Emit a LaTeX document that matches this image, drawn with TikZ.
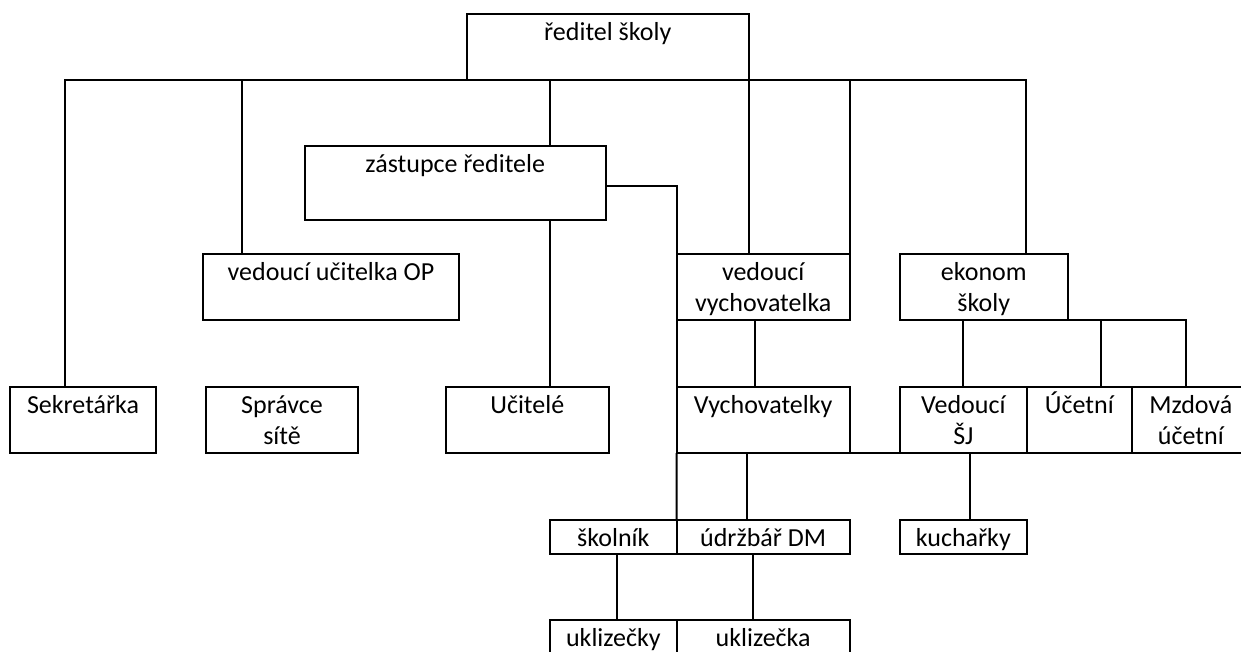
\documentclass[tikz,border=0pt]{standalone}
\usepackage{fontspec}
\setmainfont{Carlito}
\usetikzlibrary{positioning}
\newcommand{\cell}[3]{\parbox[t][#2][t]{#1}{\centering\rule{0pt}{26pt}#3}}

\begin{document}
\begin{tikzpicture}[x=1pt, y=-1pt,
  post/.style={draw, line width=2pt, inner sep=0pt, outer sep=0pt, font=\fontsize{26}{31}\selectfont},
  link/.style={draw, line width=2pt}]
\useasboundingbox (0,0) rectangle (1241,651);
\clip (0,0) rectangle (1241,651);
%vedeni
\node[post, anchor=north west](reditel) at (467,14){\cell{281.5pt}{66pt}{ředitel školy}};
\node[post, anchor=north west](zastupce) at (304.5,146){\cell{301.5pt}{74pt}{zástupce ředitele}};
\node[post, anchor=north west](vedOP) at (203,254){\cell{256pt}{66pt}{vedoucí učitelka OP}};
\node[post, anchor=north west](vedVych) at (676.7,254){\cell{173pt}{66pt}{vedoucí\\vychovatelka}};
\node[post, anchor=north west](ekonom) at (899.5,254){\cell{168.5pt}{66pt}{ekonom\\školy}};
%zamestnanci
\node[post, anchor=north west](sekret) at (10,387){\cell{146pt}{66pt}{Sekretářka}};
\node[post, anchor=north west](spravce) at (206,387){\cell{152pt}{66pt}{Správce\\sítě}};
\node[post, anchor=north west](ucitele) at (445.6,387){\cell{163.4pt}{66pt}{Učitelé}};
\node[post, anchor=north west](vychovatelky) at (676.7,387){\cell{173pt}{66pt}{Vychovatelky}};
\node[post, anchor=north west](vedSJ) at (899.8,387){\cell{127pt}{66pt}{Vedoucí\\ŠJ}};
\node[post, right=0pt of vedSJ](ucetni){\cell{105pt}{66pt}{Účetní}};
\node[post, right=0pt of ucetni](mzdova){\cell{118pt}{66pt}{Mzdová\\účetní}};
\node[post, anchor=north west](skolnik) at (550,520){\cell{126.7pt}{33.5pt}{školník}};
\node[post, right=0pt of skolnik](udrzbar){\cell{172.8pt}{33.5pt}{údržbář DM}};
\node[post, anchor=north west](kucharky) at (899.8,520){\cell{127pt}{33.5pt}{kuchařky}};
\node[post, anchor=north west](uklizecky) at (550,620){\cell{126.7pt}{40pt}{uklizečky}};
\node[post, right=0pt of uklizecky](uklizecka){\cell{172.8pt}{40pt}{uklizečka}};
%path
\path[link]([xshift=-18pt]sekret.north) |- (reditel.south) -| ([xshift=42.25pt]ekonom.north);
\path[link]([xshift=-89pt]vedOP.north) -- ([xshift=-89pt]vedOP.north |- reditel.south);
\path[link]([xshift=94.35pt]zastupce.north) -- ([xshift=94.35pt]zastupce.north |- reditel.south);
\path[link]([xshift=94.35pt]zastupce.south) -- ([xshift=94.35pt]zastupce.south |- ucitele.north);
\path[link](reditel.south east) -- (reditel.south east |- vedVych.north);
\path[link](vedVych.north east) -- (vedVych.north east |- reditel.south);
\path[link]([yshift=-3pt]zastupce.east) -| (vedVych.north west);
\path[link](vedVych.south west) -- (vychovatelky.north west);
\path[link](vychovatelky.south west) -- (udrzbar.north west);
\path[link]([xshift=-8pt]vedVych.south) -- ([xshift=-8pt]vychovatelky.north);
\path[link](vedSJ.north) |- (ekonom.south east) -| ([xshift=-5pt]mzdova.north);
\path[link]([xshift=21.5pt]ucetni.north) -- ([xshift=21.5pt]ucetni.north |- ekonom.south);
\path[link](vychovatelky.south east) -- (vedSJ.south west);
\path[link]([xshift=-16.4pt]udrzbar.north) -- ([xshift=-16.4pt]udrzbar.north |- vychovatelky.south);
\path[link]([xshift=6.4pt]kucharky.north) -- ([xshift=6.4pt]kucharky.north |- vedSJ.south);
\path[link]([xshift=4pt]skolnik.south) -- ([xshift=4pt]skolnik.south |- uklizecky.north);
\path[link]([xshift=-10.4pt]udrzbar.south) -- ([xshift=-10.4pt]udrzbar.south |- uklizecka.north);
\end{tikzpicture}
\end{document}
